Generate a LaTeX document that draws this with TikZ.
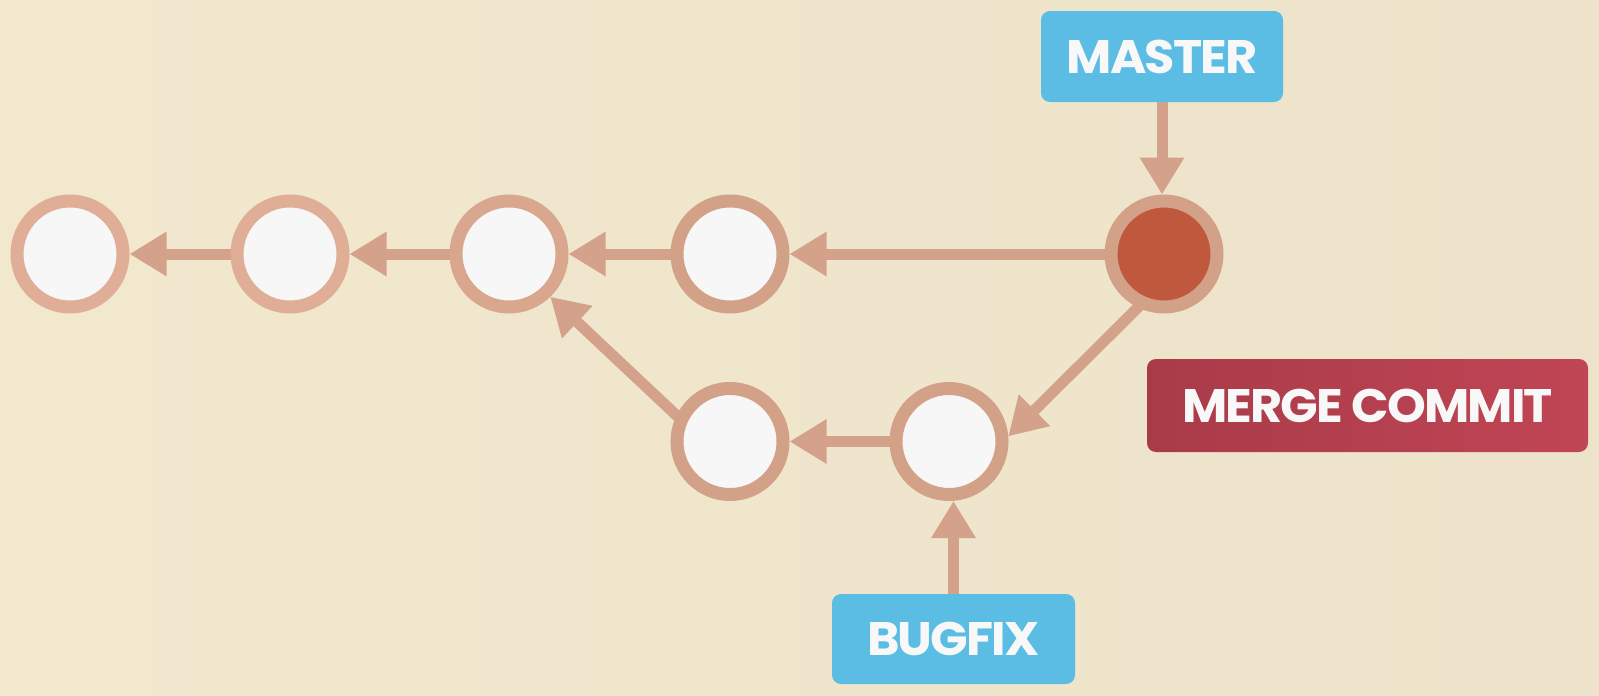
\documentclass[tikz,border=0pt]{standalone}
\usepackage{fontspec}
\newfontfamily\labelfont{Poppins}[UprightFont={* Bold},FakeStretch=1.05,LetterSpace=-4]
\usetikzlibrary{arrows.meta,calc}
\pgfdeclarelayer{bg}
\pgfdeclarelayer{arrowlayer}
\pgfsetlayers{bg,arrowlayer,main}
\definecolor{bgL}{HTML}{F2E8CE}
\definecolor{bgR}{HTML}{ECE3CA}
\definecolor{ringA}{HTML}{E0AE96}
\definecolor{ringB}{HTML}{D9A68E}
\definecolor{ringC}{HTML}{D3A088}
\definecolor{arrowcol}{HTML}{D4A18A}
\definecolor{nodefill}{HTML}{F7F7F7}
\definecolor{mergefill}{HTML}{BF583D}
\definecolor{labelblue}{HTML}{5BBCE4}
\definecolor{mergeL}{HTML}{A93B49}
\definecolor{mergeR}{HTML}{C04555}
\definecolor{labeltext}{HTML}{F8F8F8}
\tikzset{
  commit/.style={circle, minimum size=106pt, inner sep=0pt, line width=13pt, draw=ringB, fill=nodefill},
  conn/.style={draw=arrowcol, line width=11pt, shorten <=-5pt, -{Triangle[length=37pt,width=42pt]}},
  tagbox/.style={rectangle, rounded corners=9pt, fill=labelblue, text=labeltext, inner sep=0pt,
    font=\labelfont\fontsize{47}{52}\selectfont},
  mergebox/.style={rectangle, rounded corners=9pt, left color=mergeL, right color=mergeR, text=labeltext, inner sep=0pt,
    font=\labelfont\fontsize{47}{52}\selectfont}
}
\begin{document}
\begin{tikzpicture}[x=1pt,y=-1pt]
\begin{pgfonlayer}{bg}
\fill[left color=bgL, right color=bgR] (0,0) rectangle (1599,696);
\end{pgfonlayer}
\useasboundingbox (0,0) rectangle (1599,696);
% commits
\node[commit, draw=ringA] (c1) at (70,254) {};
\node[commit, draw=ringA] (c2) at (290,254) {};
\node[commit] (c3) at (509,254) {};
\node[commit, draw=ringC] (c4) at (730,254) {};
\node[commit, draw=ringC, fill=mergefill] (m) at (1164,254) {};
\node[commit, draw=ringC] (c5) at (730,441.5) {};
\node[commit, draw=ringC] (c6) at (949,441.5) {};
% labels
\node[tagbox, minimum width=242pt, minimum height=91pt] (master) at (1162,56.5) {MASTER};
\node[tagbox, minimum width=243pt, minimum height=90pt] (bugfix) at (953.5,639) {BUGFIX};
\node[mergebox, minimum width=441pt, minimum height=93pt] (mlabel) at (1367.5,405.5) {MERGE COMMIT};
% connectors
\begin{pgfonlayer}{arrowlayer}
\draw[conn] (c2) -- (c1);
\draw[conn] (c3) -- (c2);
\draw[conn] (c4) -- (c3);
\draw[conn] (m) -- (c4);
\draw[conn] (c6) -- (c5);
\draw[conn] (c5.154) -- (c3.-46);
\draw[conn] (m.-116) -- (c6.5);
\draw[conn] (master.south) -- (master.south |- m.north);
\draw[conn] (bugfix.north) -- (bugfix.north |- c6.south);
\end{pgfonlayer}
\end{tikzpicture}
\end{document}
